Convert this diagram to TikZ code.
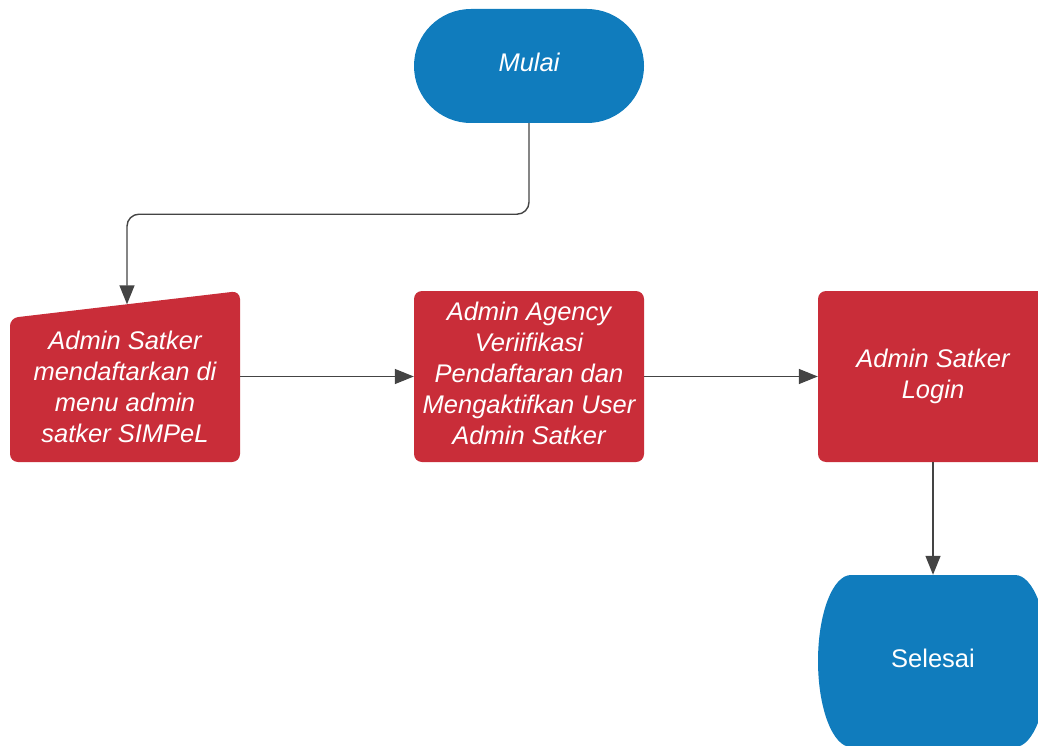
\documentclass[tikz,border=0pt]{standalone}
\usepackage{fontspec}
\setmainfont{Liberation Sans}
\usetikzlibrary{arrows.meta}
\definecolor{lblue}{RGB}{16,124,189}
\definecolor{lred}{RGB}{201,45,57}
\definecolor{lline}{RGB}{68,68,68}
\tikzset{
  txt/.style={text=white, align=center, font=\fontsize{25.5}{31}\selectfont\itshape, inner sep=0pt},
  procbox/.style={fill=lred, rounded corners=8pt, minimum width=230pt, minimum height=171pt, inner sep=0pt},
  ghost/.style={minimum width=230pt, minimum height=171pt, inner sep=0pt},
  conn/.style={draw=lline, line width=1.4pt, -{Triangle[length=19pt,width=15pt]}, rounded corners=12pt}
}
\begin{document}
\begin{tikzpicture}[x=1pt,y=-1pt]
\useasboundingbox (0,0) rectangle (1038,746);
% Mulai
\node[fill=lblue, rounded corners=56.9pt, minimum width=230pt, minimum height=114pt, inner sep=0pt] (mulai) at (529,66) {};
\node[txt] (mulait) at (529,62) {Mulai};
% Box 1 (manual input)
\node[ghost] (b1) at (125,376.5) {};
\fill[lred, rounded corners=8pt] (10,318) -- (240,291) -- (240,462) -- (10,462) -- cycle;
\node[txt] (b1t) at (125,387) {Admin Satker\\mendaftarkan di\\menu admin\\satker SIMPeL};
\coordinate (b1in) at (127,304.3);
% Box 2
\node[procbox] (b2) at (529,376.5) {};
\node[txt] (b2t) at (529,373.5) {Admin Agency\\Veriifikasi\\Pendaftaran dan\\Mengaktifkan User\\Admin Satker};
% Box 3
\node[procbox, txt] (b3) at (933,376.5) {Admin Satker\\Login};
% Selesai
\node[ghost, minimum height=172pt] (sel) at (933,661) {};
\fill[lblue] (851,575) -- (1015,575)
  arc[start angle=90, end angle=-90, x radius=33pt, y radius=86pt]
  -- (851,747)
  arc[start angle=270, end angle=90, x radius=33pt, y radius=86pt] -- cycle;
\node[txt, font=\fontsize{25.5}{31}\selectfont] (selt) at (933,658) {Selesai};
% connectors
\draw[conn] (mulai.south) -- ++(0,91) -| (b1in);
\draw[conn] (b1.east) -- (b2.west);
\draw[conn] (b2.east) -- (b3.west);
\draw[conn] (b3.south) -- (sel.north);
\end{tikzpicture}
\end{document}
